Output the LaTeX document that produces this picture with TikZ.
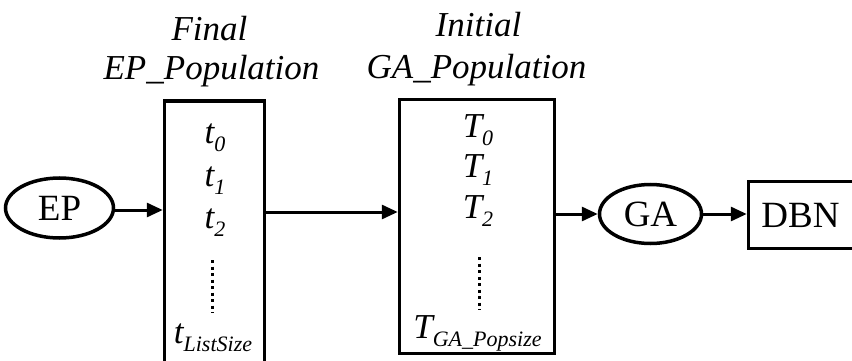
\documentclass[tikz,border=0pt]{standalone}
\usepackage{fontspec}
\setmainfont{Liberation Serif}
\usetikzlibrary{shapes.geometric,arrows.meta}
\newcommand\subtx[1]{\raisebox{-8pt}{\fontsize{22}{22}\selectfont\itshape #1}}
\begin{document}
\begin{tikzpicture}[x=1pt,y=-1pt,
  boxed/.style={draw,line width=3.5pt,rectangle,inner sep=0pt},
  ell/.style={draw,line width=3.5pt,ellipse,inner sep=0pt,font=\fontsize{37}{37}\selectfont},
  lbl/.style={anchor=base,inner sep=0pt,font=\fontsize{35}{35}\selectfont\itshape},
  item/.style={anchor=base,inner sep=0pt,font=\fontsize{35}{35}\selectfont\itshape},
  arr/.style={line width=3pt,-{Triangle[length=16pt,width=14pt]}},
  dotline/.style={line width=3pt,dash pattern=on 3pt off 3.5pt}]
\useasboundingbox (0,0) rectangle (852,361);
\clip (0,0) rectangle (852,361);
% nodes
\node[ell,minimum width=108pt,minimum height=60pt] (ep) at (59.5,208) {EP};
\node[boxed,minimum width=100pt,minimum height=263.5pt] (b1) at (214.5,233) {};
\node[boxed,minimum width=155pt,minimum height=254pt] (b2) at (477,226.5) {};
\node[ell,minimum width=102pt,minimum height=59pt] (ga) at (650.5,214) {GA};
\node[boxed,minimum width=108pt,minimum height=67pt,font=\fontsize{37}{37}\selectfont] (dbn) at (802.5,215) {\hspace*{-4pt}DBN};
% titles
\node[lbl] (fin) at (209.5,41) {Final};
\node[lbl] (epp) at (211.5,80) {EP\_Population};
\node[lbl] (ini) at (478.5,37) {Initial};
\node[lbl] (gap) at (476.5,79) {GA\_Population};
% box 1 contents
\node[item] (t0) at (215,143) {t\subtx{0}};
\node[item] (t1) at (215,186) {t\subtx{1}};
\node[item] (t2) at (215,228) {t\subtx{2}};
\node[item] (tl) at (213,343) {t\subtx{ListSize}};
\draw[dotline] (212,260) -- (212,313);
% box 2 contents
\node[item] (T0) at (478,137) {T\subtx{0}};
\node[item] (T1) at (478,177) {T\subtx{1}};
\node[item] (T2) at (478,218) {T\subtx{2}};
\node[item] (Tg) at (477.5,338) {T\subtx{GA\_Popsize}};
\draw[dotline] (479,257) -- (479,310);
% connectors
\draw[arr] ([yshift=-2pt]ep.east) -- ([yshift=-2pt]ep.east -| b1.west);
\draw[arr] ([yshift=21pt]b1.east) -- ([yshift=21pt]b1.east -| b2.west);
\draw[arr] (ga.west -| b2.east) -- (ga.west);
\draw[arr] (ga.east) -- (ga.east -| dbn.west);
\end{tikzpicture}
\end{document}
